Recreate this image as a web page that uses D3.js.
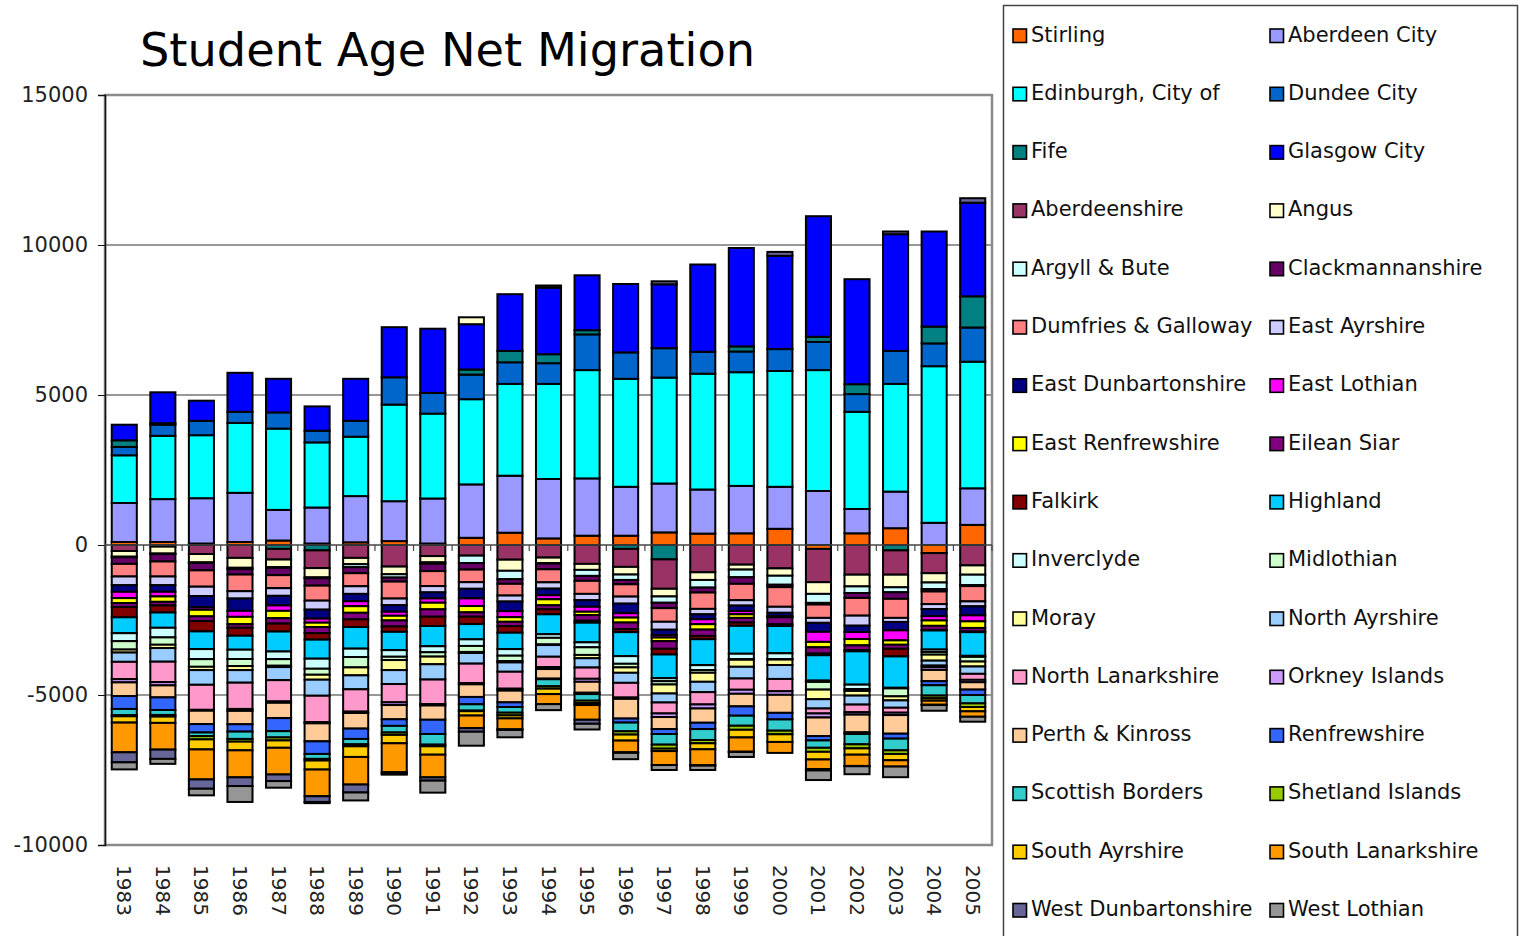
<!DOCTYPE html>
<html>
<head>
<meta charset="utf-8">
<script src="https://cdn.jsdelivr.net/npm/d3@7"></script>
<style>
  body { margin: 0; background: #fff; }
  text { font-family: "DejaVu Sans", Verdana, sans-serif; }
</style>
</head>
<body>
<svg width="1520" height="936"></svg>
<script>

// categories
var years = [1983, 1984, 1985, 1986, 1987, 1988, 1989, 1990, 1991, 1992, 1993, 1994,
             1995, 1996, 1997, 1998, 1999, 2000, 2001, 2002, 2003, 2004, 2005];

// net migration per council area
var stirling = [100, 100, 50, 100, 150, 50, 90, 130, 50, 240, 410, 220, 310, 310, 420, 380, 390, 540, -130, 390, 560, -270, 670];
var aberdeenCity = [1300, 1430, 1510, 1640, 1020, 1200, 1540, 1330, 1500, 1780, 1900, 1980, 1910, 1630, 1630, 1470, 1580, 1400, 1800, 810, 1220, 740, 1220];
var edinburgh = [1590, 2110, 2100, 2330, 2710, 2170, 1980, 3220, 2830, 2840, 3060, 3170, 3610, 3600, 3530, 3860, 3790, 3860, 4030, 3240, 3590, 5220, 4220];
var dundee = [280, 370, 480, 370, 540, 390, 530, 910, 690, 820, 720, 690, 1190, 880, 980, 730, 690, 730, 940, 590, 1100, 760, 1140];
var fife = [220, 50, 0, 0, -130, -180, 0, 0, 0, 170, 380, 300, 140, -130, -480, 0, 170, 0, 170, 330, -180, 560, 1040];
var glasgow = [520, 1030, 670, 1300, 1120, 810, 1400, 1670, 2140, 1510, 1890, 2220, 1830, 2280, 2130, 2910, 3280, 3110, 4020, 3500, 3890, 3170, 3120];
var aberdeenshire = [-200, -55, -300, -430, -355, -590, -430, -720, -370, -355, -490, -420, -630, -600, -980, -910, -655, -780, -1110, -990, -810, -670, -680];
var angus = [-190, -230, -280, -330, -255, -310, -210, -255, -210, 230, -370, -180, -200, -255, -255, -255, -165, -245, -390, -390, -420, -310, -310];
var argyll = [-20, -20, -20, -45, -20, -30, -100, -110, -45, -245, -280, -20, -200, -180, -210, -255, -255, -300, -300, -220, -165, -220, -345];
var clackmannanshire = [-220, -245, -245, -180, -245, -245, -200, -135, -245, -220, -155, -190, -165, -145, -180, -165, -220, -80, -55, -165, -220, -80, -35];
var dumfries = [-420, -500, -545, -555, -435, -500, -435, -565, -500, -420, -390, -435, -435, -410, -455, -545, -545, -655, -445, -590, -635, -420, -510];
var eastAyrshire = [-290, -290, -310, -245, -255, -300, -255, -220, -210, -220, -200, -210, -210, -235, -265, -180, -180, -200, -165, -335, -135, -165, -165];
var eastDunbartonshire = [-220, -220, -380, -410, -320, -300, -245, -220, -200, -320, -320, -220, -220, -320, -180, -165, -180, -110, -300, -210, -280, -235, -300];
var eastLothian = [-210, -155, -80, -200, -180, -135, -165, -135, -145, -255, -200, -135, -165, -145, -80, -165, -110, -20, -335, -235, -335, -145, -200];
var eastRenfrewshire = [-165, -180, -220, -245, -245, -145, -220, -155, -220, -210, -155, -200, -110, -165, -120, -180, -120, -20, -180, -210, -145, -180, -220];
var eileanSiar = [-130, -120, -155, -120, -180, -200, -220, -200, -245, -145, -145, -135, -190, -220, -255, -210, -155, -235, -210, -155, -135, -135, -120];
var falkirk = [-345, -235, -345, -265, -265, -220, -255, -180, -310, -245, -220, -165, -65, -100, -190, -110, -110, -55, -55, -45, -255, -20, -20];
var highland = [-530, -510, -590, -465, -665, -635, -720, -610, -675, -510, -545, -665, -655, -800, -790, -865, -930, -910, -845, -1110, -1045, -635, -790];
var inverclyde = [-265, -320, -335, -310, -255, -335, -280, -220, -200, -220, -220, -120, -165, -255, -100, -165, -180, -190, -45, -145, -20, -80, -35];
var midlothian = [-280, -245, -255, -235, -220, -200, -345, -110, -145, -200, -180, -220, -255, -120, -110, -90, -20, -20, -255, -65, -265, -90, -155];
var moray = [-100, -110, -110, -135, -45, -165, -265, -335, -255, -35, -45, -20, -110, -180, -300, -300, -235, -180, -320, -155, -135, -200, -165];
var northAyrshire = [-310, -455, -490, -420, -435, -535, -465, -465, -510, -355, -310, -390, -310, -335, -300, -345, -390, -465, -310, -300, -245, -165, -245];
var northLanarkshire = [-575, -680, -835, -875, -710, -875, -745, -610, -820, -645, -565, -345, -375, -490, -365, -410, -375, -410, -165, -255, -165, -55, -200];
var orkney = [-110, -110, -30, -65, -45, -45, -45, -90, -45, -45, -65, -65, -100, -45, -120, -135, -135, -120, -135, -80, -80, -90, -80];
var perth = [-455, -400, -445, -445, -510, -600, -520, -475, -475, -420, -390, -320, -365, -655, -400, -475, -420, -600, -620, -590, -620, -375, -245];
var renfrewshire = [-430, -420, -280, -245, -435, -420, -345, -220, -475, -245, -155, -20, -45, -135, -165, -210, -310, -220, -145, -55, -165, -135, -180];
var scottishBorders = [-210, -165, -120, -245, -210, -165, -180, -220, -355, -210, -190, -235, -220, -290, -355, -365, -335, -375, -245, -345, -390, -345, -280];
var shetland = [-35, -55, -110, -90, -100, -55, -65, -80, -55, -20, -90, -80, -80, -110, -135, -110, -135, -120, -135, -135, -120, -90, -120];
var southAyrshire = [-210, -210, -335, -290, -245, -300, -355, -280, -280, -145, -100, -180, -65, -200, -80, -200, -255, -255, -255, -210, -210, -80, -145];
var southLanarkshire = [-990, -890, -1000, -900, -890, -890, -920, -965, -755, -420, -365, -335, -490, -390, -465, -535, -475, -365, -320, -375, -210, -135, -180];
var westDunbartonshire = [-335, -310, -310, -290, -220, -190, -265, -45, -110, -120, -20, 70, -135, -20, 100, -10, -10, 130, -45, -10, 90, -10, 150];
var westLothian = [-235, -165, -220, -530, -220, -40, -265, -35, -400, -465, -245, -200, -190, -210, -165, -145, -165, 0, -320, -265, -355, -190, -165];

var seriesNames = ["Stirling", "Aberdeen City", "Edinburgh, City of", "Dundee City", "Fife", "Glasgow City",
  "Aberdeenshire", "Angus", "Argyll & Bute", "Clackmannanshire", "Dumfries & Galloway", "East Ayrshire",
  "East Dunbartonshire", "East Lothian", "East Renfrewshire", "Eilean Siar", "Falkirk", "Highland",
  "Inverclyde", "Midlothian", "Moray", "North Ayrshire", "North Lanarkshire", "Orkney Islands",
  "Perth & Kinross", "Renfrewshire", "Scottish Borders", "Shetland Islands", "South Ayrshire",
  "South Lanarkshire", "West Dunbartonshire", "West Lothian"];

var seriesValues = [stirling, aberdeenCity, edinburgh, dundee, fife, glasgow, aberdeenshire, angus,
  argyll, clackmannanshire, dumfries, eastAyrshire, eastDunbartonshire, eastLothian, eastRenfrewshire,
  eileanSiar, falkirk, highland, inverclyde, midlothian, moray, northAyrshire, northLanarkshire, orkney,
  perth, renfrewshire, scottishBorders, shetland, southAyrshire, southLanarkshire, westDunbartonshire,
  westLothian];

var seriesColors = ["#FF6600", "#9999FF", "#00FFFF", "#0066CC", "#008080", "#0000FF",
  "#993366", "#FFFFCC", "#CCFFFF", "#660066", "#FF8080", "#CCCCFF",
  "#000080", "#FF00FF", "#FFFF00", "#800080", "#800000", "#00CCFF",
  "#CCFFFF", "#CCFFCC", "#FFFF99", "#99CCFF", "#FF99CC", "#CC99FF",
  "#FFCC99", "#3366FF", "#33CCCC", "#99CC00", "#FFCC00", "#FF9900",
  "#666699", "#969696"];

var yTicks = [15000, 10000, 5000, 0, -5000, -10000];

var svg = d3.select("svg");
var plot = { left: 105, right: 992, top: 95, bottom: 845 };

svg.append("rect").attr("width", 1520).attr("height", 936).attr("fill", "#fff");

// table for d3.stack
var table = years.map(function (yr, j) {
  var row = { year: yr };
  seriesNames.forEach(function (n, i) { row[n] = seriesValues[i][j]; });
  return row;
});

var layers = d3.stack()
  .keys(seriesNames)
  .offset(d3.stackOffsetDiverging)(table);

var x = d3.scaleBand()
  .domain(years)
  .range([plot.left, plot.right])
  .paddingInner(0.35)
  .paddingOuter(0.175);

var y = d3.scaleLinear()
  .domain([-10000, 15000])
  .range([plot.bottom, plot.top]);

// gridlines
svg.append("g")
  .selectAll("line")
  .data([10000, 5000, -5000])
  .enter().append("line")
  .attr("x1", plot.left).attr("x2", plot.right)
  .attr("y1", function (d) { return y(d); })
  .attr("y2", function (d) { return y(d); })
  .attr("stroke", "#333")
  .attr("stroke-width", 1.2);

// bars
var layer = svg.append("g")
  .attr("class", "bars")
  .selectAll("g")
  .data(layers)
  .enter().append("g")
  .attr("fill", function (d, i) { return seriesColors[i]; });

layer.selectAll("rect")
  .data(function (d) { return d.filter(function (p) { return p[1] !== p[0]; }); })
  .enter().append("rect")
  .attr("x", function (d) { return x(d.data.year); })
  .attr("width", x.bandwidth())
  .attr("y", function (d) { return y(d[1]); })
  .attr("height", function (d) { return y(d[0]) - y(d[1]); })
  .attr("stroke", "#000")
  .attr("stroke-width", 2);

// plot area frame
svg.append("rect")
  .attr("x", plot.left).attr("y", plot.top)
  .attr("width", plot.right - plot.left)
  .attr("height", plot.bottom - plot.top)
  .attr("fill", "none")
  .attr("stroke", "#8a8a8a")
  .attr("stroke-width", 2.5);

// value axis (plain hyphen minus like the original)
var yAxis = d3.axisLeft(y)
  .tickValues(yTicks)
  .tickSize(7)
  .tickPadding(10)
  .tickFormat(function (d) { return String(d); });
var yg = svg.append("g")
  .attr("transform", "translate(" + plot.left + ",0)")
  .call(yAxis);
yg.select(".domain").attr("stroke", "#111").attr("stroke-width", 1.5);
yg.selectAll(".tick line").attr("stroke", "#111");
yg.selectAll(".tick text")
  .attr("font-size", 21)
  .attr("font-family", "DejaVu Sans, Verdana, sans-serif")
  .attr("fill", "#222");

// category axis crossing at zero
var step = x.step();
var zeroY = y(0);
svg.append("line")
  .attr("x1", plot.left).attr("x2", plot.right)
  .attr("y1", zeroY).attr("y2", zeroY)
  .attr("stroke", "#444").attr("stroke-width", 1.5);

svg.append("g")
  .selectAll("line")
  .data(years.concat(["end"]))
  .enter().append("line")
  .attr("x1", function (d, i) { return plot.left + i * step; })
  .attr("x2", function (d, i) { return plot.left + i * step; })
  .attr("y1", zeroY).attr("y2", zeroY + 6)
  .attr("stroke", "#444").attr("stroke-width", 1.2);

// year labels, rotated
svg.append("g")
  .selectAll("text")
  .data(years)
  .enter().append("text")
  .attr("transform", function (d) {
    return "translate(" + (x(d) + x.bandwidth() / 2) + ",865) rotate(90)";
  })
  .attr("dominant-baseline", "central")
  .attr("font-size", 20)
  .attr("fill", "#222")
  .text(function (d) { return d; });

// title
svg.append("text")
  .attr("x", 140)
  .attr("y", 66)
  .attr("font-size", 46)
  .attr("textLength", 615)
  .attr("lengthAdjust", "spacingAndGlyphs")
  .attr("fill", "#000")
  .text("Student Age Net Migration");

// legend
var legend = svg.append("g").attr("class", "legend");
legend.append("rect")
  .attr("x", 1003.5).attr("y", 5.5)
  .attr("width", 514).attr("height", 960)
  .attr("fill", "#fff")
  .attr("stroke", "#444")
  .attr("stroke-width", 1.5);

var item = legend.selectAll("g.item")
  .data(seriesNames)
  .enter().append("g")
  .attr("class", "item")
  .attr("transform", function (d, i) {
    var cx = (i % 2 === 0) ? 1013 : 1270;
    var cy = 29 + Math.floor(i / 2) * 58.3;
    return "translate(" + cx + "," + cy + ")";
  });

item.append("rect")
  .attr("width", 13.5).attr("height", 13.5)
  .attr("fill", function (d, i) { return seriesColors[i]; })
  .attr("stroke", "#000")
  .attr("stroke-width", 1.6);

item.append("text")
  .attr("x", 18)
  .attr("y", 12.5)
  .attr("font-size", 21)
  .attr("fill", "#111")
  .text(function (d) { return d; });

</script>
</body>
</html>
